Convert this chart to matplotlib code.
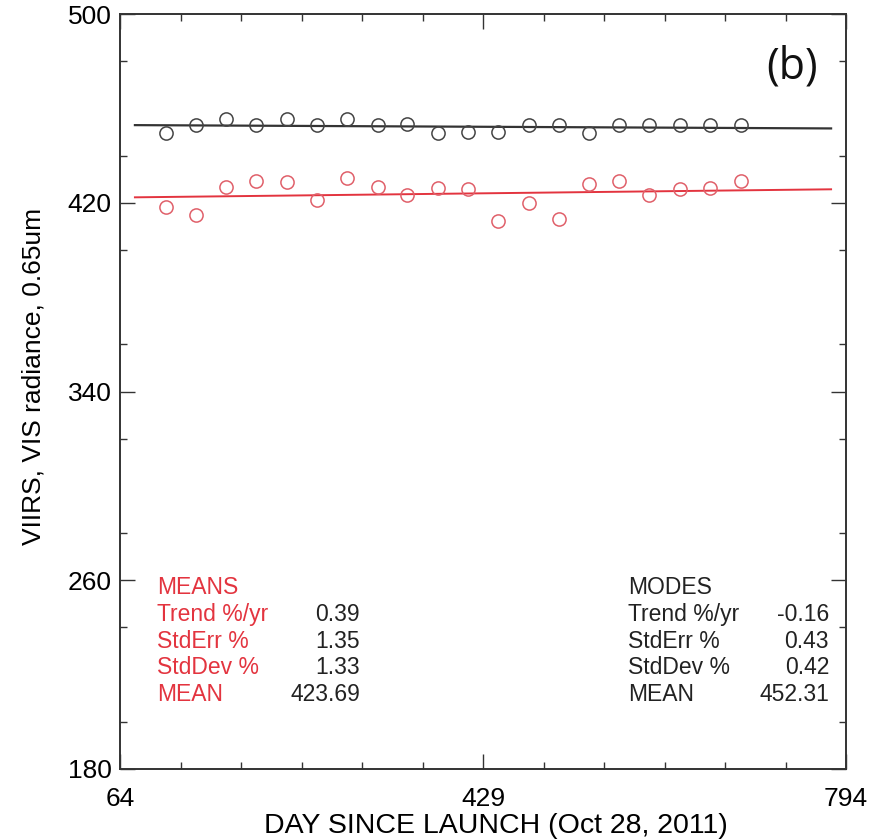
import matplotlib
matplotlib.use("Agg")
import matplotlib.pyplot as plt
from matplotlib.ticker import MultipleLocator, FixedLocator

plt.rcParams['font.family'] = ['Liberation Sans', 'DejaVu Sans']

# ---- data ----
days = [110, 140, 171, 201, 232, 262, 292, 323, 353, 384,
        414, 444, 475, 505, 536, 566, 596, 627, 657, 688]
modes = [449.7, 452.9, 455.4, 452.9, 455.4, 452.9, 455.4, 452.9, 453.2, 449.7,
         449.9, 449.9, 452.9, 452.9, 449.7, 452.9, 452.9, 452.9, 452.9, 452.9]
means = [418.1, 414.8, 426.8, 429.3, 428.9, 421.2, 430.4, 426.5, 423.3, 426.4,
         426.0, 412.3, 420.0, 413.0, 427.8, 429.2, 423.3, 425.7, 426.1, 429.2]
trend_days = [79, 779]
modes_trend = [452.9, 451.5]
means_trend = [422.3, 425.7]

x_ticks = [64, 429, 794]
y_ticks = [180, 260, 340, 420, 500]

means_labels = ["MEANS", "Trend %/yr", "StdErr %", "StdDev %", "MEAN"]
means_values = ["", "0.39", "1.35", "1.33", "423.69"]
modes_labels = ["MODES", "Trend %/yr", "StdErr %", "StdDev %", "MEAN"]
modes_values = ["", "-0.16", "0.43", "0.42", "452.31"]

RED = '#e3343f'

fig = plt.figure(figsize=(8.8, 8.4), dpi=100)
ax = fig.add_axes([120/880, 1-769/840, 726/880, 755/840])

ax.plot(trend_days, modes_trend, color='#333333', lw=1.6)
ax.plot(trend_days, means_trend, color=RED, lw=1.4)
ax.plot(days, modes, linestyle='none', marker='o', markersize=9.5,
        markerfacecolor='none', markeredgecolor='#444444', markeredgewidth=1.1)
ax.plot(days, means, linestyle='none', marker='o', markersize=9.5,
        markerfacecolor='none', markeredgecolor='#e0606a', markeredgewidth=1.1)

ax.set_xlim(64, 794)
ax.set_ylim(180, 500)
ax.xaxis.set_major_locator(FixedLocator(x_ticks))
ax.xaxis.set_minor_locator(FixedLocator([64 + k*365/6 for k in range(13)]))
ax.yaxis.set_major_locator(FixedLocator(y_ticks))
ax.yaxis.set_minor_locator(MultipleLocator(40))
ax.set_xticklabels([str(v) for v in x_ticks])
ax.set_yticklabels([str(v) for v in y_ticks])

ax.tick_params(axis='both', which='both', direction='in', top=True, right=True,
               width=1.0, color='#333333')
ax.tick_params(axis='both', which='major', length=11, labelsize=19)
ax.tick_params(axis='both', which='minor', length=5)
ax.tick_params(axis='x', which='major', pad=13)
ax.tick_params(axis='y', which='major', pad=6)
for s in ax.spines.values():
    s.set_linewidth(1.4)
    s.set_color('#333333')

ax.set_ylabel("VIIRS, VIS radiance, 0.65um", fontsize=19)
ax.yaxis.set_label_coords((46 - 120)/726, (769 - 376)/755)
ax.set_xlabel("DAY SINCE LAUNCH (Oct 28, 2011)", fontsize=20.5, va='bottom')
ax.xaxis.set_label_coords((496 - 120)/726, (769 - 839)/755)

ax.text(818/880, 1-67/840, "(b)", transform=fig.transFigure, fontsize=31,
        ha='right', va='center', family=['Open Sans', 'DejaVu Sans'], color='#111111')

row_y = [588, 614.5, 641, 668, 694.5]
for i in range(5):
    fy = 1 - row_y[i]/840
    fig.text(157/880, fy, means_labels[i], color=RED, fontsize=16.5, ha='left', va='center')
    fig.text(360/880, fy, means_values[i], color='#222222', fontsize=16.5, ha='right', va='center')
    fig.text(628/880, fy, modes_labels[i], color='#222222', fontsize=16.5, ha='left', va='center')
    fig.text(829/880, fy, modes_values[i], color='#222222', fontsize=16.5, ha='right', va='center')

fig.savefig("out.png", dpi=100)
